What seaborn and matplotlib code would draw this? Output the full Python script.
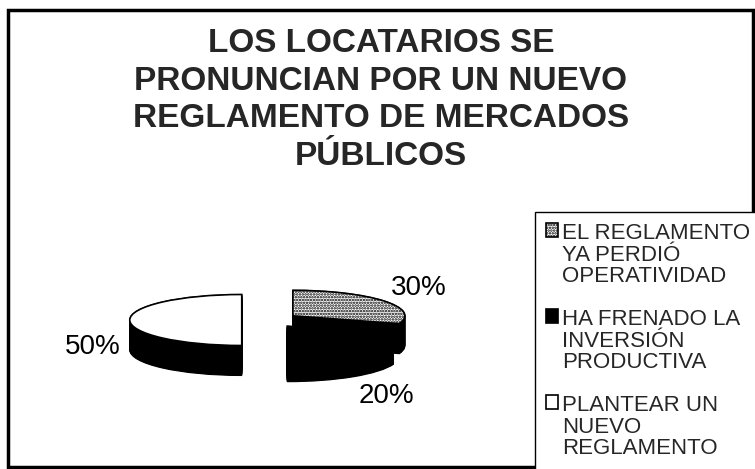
import numpy as np
import matplotlib
matplotlib.use('Agg')
import matplotlib.pyplot as plt
import seaborn as sns
from matplotlib.patches import Rectangle

sns.set_style('white')
plt.rcParams['font.family'] = ['Liberation Sans', 'DejaVu Sans']
plt.rcParams['hatch.linewidth'] = 1.2

# data
title = 'LOS LOCATARIOS SE\nPRONUNCIAN POR UN NUEVO\nREGLAMENTO DE MERCADOS\nPÚBLICOS'
labels = ['EL REGLAMENTO\nYA PERDIÓ\nOPERATIVIDAD',
          'HA FRENADO LA\nINVERSIÓN\nPRODUCTIVA',
          'PLANTEAR UN\nNUEVO\nREGLAMENTO']
values = [30, 20, 50]
top_colors = ['white', 'black', 'white']
hatches = ['......', '', '']
explode = [0.28, 0.30, 0.23]

W, H = 755, 469
fig = plt.figure(figsize=(W / 100, H / 100), dpi=100)

# one axes over the whole figure, squashed so the pie looks tilted
ax = fig.add_axes([0, 0, 1, 1])
cx_px, cy_px, rx_px, ry_px = 267.5, 320, 112, 25.5
depth = 30 / ry_px

# side walls: stack of black pies going down
for d in np.linspace(depth, 0, 40):
    ax.pie(values, explode=explode, startangle=90, counterclock=False,
           center=(0, -d), colors=['black'] * 3,
           wedgeprops=dict(linewidth=0.8, edgecolor='black'))

# top faces
wedges, _, autotexts = ax.pie(values, explode=explode, startangle=90, counterclock=False,
                              colors=top_colors, autopct='%1.0f%%', pctdistance=1.33,
                              wedgeprops=dict(linewidth=1.2, edgecolor='black'),
                              textprops=dict(fontsize=20, color='black'))
for w, h in zip(wedges, hatches):
    w.set_hatch(h)

# labels sit outside the 3d rim
label_shift = [(0.05, 0.3), (0.1, -1.65), (0.0, -1.05)]
for t, (dx, dy) in zip(autotexts, label_shift):
    x, y = t.get_position()
    t.set_position((x + dx, y + dy))

ax.set_aspect('auto')
ax.set_xlim(-cx_px / rx_px, (W - cx_px) / rx_px)
ax.set_ylim(-(H - cy_px) / ry_px, cy_px / ry_px)
ax.axis('off')

# outer frame
fig.patches.append(Rectangle((8 / W, 2 / H), 745 / W, 457 / H, transform=fig.transFigure,
                             fill=False, lw=2.5, ec='black'))

fig.text(381 / W, 1 - 100 / H, title, ha='center', va='center',
         fontsize=24, fontweight='bold', linespacing=1.28)

leg = fig.legend(wedges, labels, loc='upper left', bbox_to_anchor=(535 / W, 1 - 212 / H),
                 borderaxespad=0, fontsize=16, frameon=True, fancybox=False,
                 edgecolor='black', framealpha=1, handlelength=0.55, handleheight=0.55,
                 handletextpad=0.15, labelspacing=1.0, borderpad=0.5)
leg.get_frame().set_linewidth(1.0)
for t in leg.get_texts():
    t.set_linespacing(1.03)
# put each square next to the first line of its label
for col in leg._legend_handle_box.get_children():
    for row in col.get_children():
        row.align = 'top'

fig.savefig('out.png', dpi=100)
